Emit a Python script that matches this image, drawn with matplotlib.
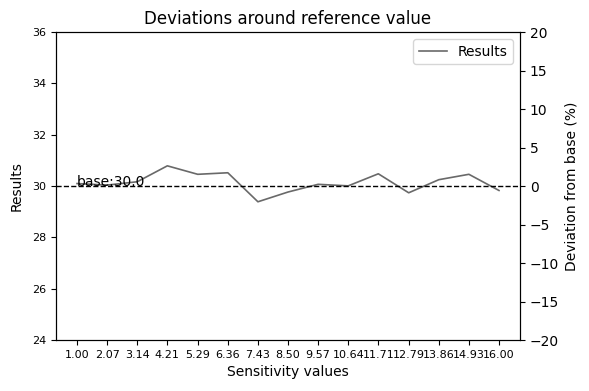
import numpy as np
import matplotlib.pyplot as plt

# sensitivity values and results
sens_values = [1.00, 2.07, 3.14, 4.21, 5.29, 6.36, 7.43, 8.50, 9.57, 10.64,
               11.71, 12.79, 13.86, 14.93, 16.00]
tick_labels = ["1.00", "2.07", "3.14", "4.21", "5.29", "6.36", "7.43", "8.50",
               "9.57", "10.64", "11.71", "12.79", "13.86", "14.93", "16.00"]
results = [30.10, 30.04, 30.17, 30.79, 30.46, 30.52, 29.39, 29.77, 30.07, 30.01,
           30.48, 29.74, 30.25, 30.46, 29.83]
base = 30.0

fig, ax = plt.subplots(figsize=(5.89, 3.91), dpi=100)
fig.subplots_adjust(left=0.095, right=0.883, top=0.918, bottom=0.130)

ax.plot(sens_values, results, color="dimgray", linewidth=1.2, label="Results")
ax.axhline(base, color="black", linestyle="--", linewidth=1)
ax.text(sens_values[0], base, f"base:{base}", fontsize=10)

ax.set_ylim(24, 36)
ax.set_xticks(sens_values)
ax.set_xticklabels(tick_labels)
ax.tick_params(axis="both", labelsize=8)
ax.set_xlabel("Sensitivity values")
ax.set_ylabel("Results", labelpad=6)
ax.set_title("Deviations around reference value")
ax.legend(loc="upper right")

# secondary axis: percent deviation from base
ax2 = ax.twinx()
ax2.set_ylim((24 - base) / base * 100, (36 - base) / base * 100)
ax2.set_ylabel("Deviation from base (%)")

fig.savefig("out.png", dpi=100)
